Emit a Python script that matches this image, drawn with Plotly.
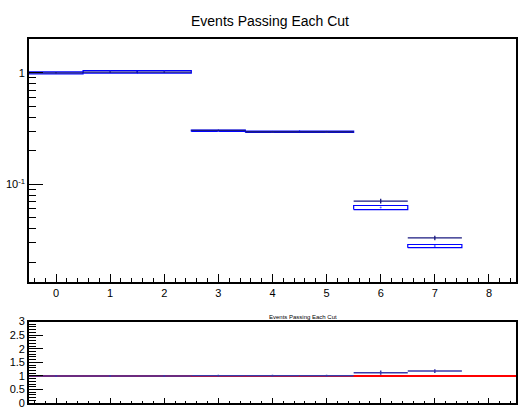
import plotly.graph_objects as go

# ---- data ----
bins = [0, 1, 2, 3, 4, 5, 6, 7]
mc_vals = [1.00, 1.02, 1.02, 0.302, 0.296, 0.296, 0.0619, 0.0279]
mc_errs = [0.02, 0.025, 0.025, 0.0045, 0.0045, 0.0045, 0.0026, 0.0009]
data_vals = [1.00, 1.014, 1.014, 0.305, 0.296, 0.296, 0.0707, 0.0330]
data_errs = [0.015, 0.015, 0.015, 0.004, 0.004, 0.004, 0.0035, 0.0015]
ratio_vals = [1.00, 1.00, 1.00, 1.01, 1.01, 1.01, 1.12, 1.18]
ratio_errs = [0.03, 0.03, 0.03, 0.03, 0.03, 0.03, 0.08, 0.07]
ratio_ref = 1.0
y_major_vals = [0.1, 1]
y_major_text = ["10<sup>-1</sup>", "1"]
y_minor_vals = [0.02, 0.03, 0.04, 0.05, 0.06, 0.07, 0.08, 0.09,
                0.2, 0.3, 0.4, 0.5, 0.6, 0.7, 0.8, 0.9]
r_tick_vals = [0, 0.5, 1, 1.5, 2, 2.5, 3]
r_tick_text = ["0", "0.5", "1", "1.5", "2", "2.5", "3"]
title_text = "Events Passing Each Cut"

W, H = 518, 413
half = 0.5
ylog_range = [-1.879, 0.299]

# build MC error boxes
bx, by = [], []
for b, v, e in zip(bins, mc_vals, mc_errs):
    lo, hi = v - e, v + e
    bx += [b - half, b + half, b + half, b - half, b - half, None]
    by += [lo, lo, hi, hi, lo, None]

fig = go.Figure()
fig.add_trace(go.Scatter(x=bx, y=by, mode="lines", line=dict(color="#0000ff", width=1.2),
                         hoverinfo="skip", showlegend=False, xaxis="x", yaxis="y"))
fig.add_trace(go.Scatter(x=bins, y=mc_vals, mode="markers",
                         marker=dict(color="#6666ff", size=2), showlegend=False,
                         xaxis="x", yaxis="y"))
fig.add_trace(go.Scatter(x=bins, y=data_vals, mode="markers",
                         marker=dict(color="#1a1a80", size=1),
                         error_x=dict(type="constant", value=half, color="#1a1a80", thickness=1.3, width=0),
                         error_y=dict(type="data", array=data_errs, color="#1a1a80", thickness=1.3, width=0),
                         showlegend=False, xaxis="x", yaxis="y"))
# invisible trace to host the minor-tick overlay axis
fig.add_trace(go.Scatter(x=bins, y=mc_vals, mode="markers", marker=dict(opacity=0),
                         hoverinfo="skip", showlegend=False, xaxis="x", yaxis="y3"))

# ratio panel
fig.add_trace(go.Scatter(x=[bins[0] - half, bins[-1] + 1 + half], y=[ratio_ref, ratio_ref],
                         mode="lines", line=dict(color="#ff0000", width=2),
                         showlegend=False, xaxis="x2", yaxis="y2"))
fig.add_trace(go.Scatter(x=bins, y=ratio_vals, mode="markers",
                         marker=dict(color="#3a3aaa", size=1),
                         error_x=dict(type="constant", value=half, color="#3a3aaa", thickness=1.5, width=0),
                         error_y=dict(type="data", array=ratio_errs, color="#3a3aaa", thickness=1.5, width=0),
                         showlegend=False, xaxis="x2", yaxis="y2"))

xdom = [29 / W, 517 / W]
top_dom = [(H - 284.5) / H, (H - 34.5) / H]
bot_dom = [(H - 409) / H, (H - 325) / H]
font = "Liberation Sans, Arial, sans-serif"

common_x = dict(domain=xdom, range=[-0.5, 8.5], showgrid=False, zeroline=False,
                showline=True, linecolor="black", linewidth=1.5, mirror=True,
                ticks="inside", tickcolor="black", tickwidth=1.2, dtick=1, tick0=0)

fig.update_layout(
    width=W, height=H, margin=dict(l=0, r=0, t=0, b=0),
    paper_bgcolor="white", plot_bgcolor="white",
    font=dict(family=font, color="black"),
    xaxis=dict(**common_x, anchor="y", ticklen=8, tickfont=dict(size=11),
               minor=dict(dtick=0.2, tick0=0, ticklen=4, ticks="inside", tickcolor="black", showgrid=False)),
    yaxis=dict(domain=top_dom, type="log", range=ylog_range, anchor="x",
               showgrid=False, zeroline=False, showline=True, linecolor="black", linewidth=1.5,
               mirror=True, ticks="inside", ticklen=14, tickwidth=1.2, tickcolor="black",
               tickmode="array", tickvals=y_major_vals, ticktext=y_major_text,
               tickfont=dict(size=11)),
    yaxis3=dict(domain=top_dom, type="log", range=ylog_range, overlaying="y", anchor="x",
                side="left", showgrid=False, zeroline=False, showline=False,
                ticks="inside", ticklen=7, tickwidth=1.2, tickcolor="black",
                tickmode="array", tickvals=y_minor_vals, showticklabels=False),
    xaxis2=dict(**common_x, anchor="y2", ticklen=5, showticklabels=False,
                minor=dict(dtick=0.2, tick0=0, ticklen=2, ticks="inside", tickcolor="black", showgrid=False)),
    yaxis2=dict(domain=bot_dom, range=[0, 3], anchor="x2",
                showgrid=False, zeroline=False, showline=True, linecolor="black", linewidth=1.5,
                mirror=True, ticks="inside", ticklen=14, tickwidth=1.2, tickcolor="black",
                tickmode="array", tickvals=r_tick_vals, ticktext=r_tick_text,
                tickfont=dict(size=11), ticklabeloverflow="allow",
                minor=dict(dtick=0.1, tick0=0, ticklen=7, ticks="inside", tickcolor="black", showgrid=False)),
    annotations=[
        dict(text=title_text, x=271 / W, y=1 - 15 / H, xref="paper", yref="paper",
             showarrow=False, font=dict(size=14, family=font), xanchor="center", yanchor="middle"),
        dict(text=title_text, x=304 / W, y=1 - 320 / H, xref="paper", yref="paper",
             showarrow=False, font=dict(size=6, family=font), xanchor="center", yanchor="middle"),
    ],
)

fig.write_html("out.html", config={"displayModeBar": False},
               post_script="document.body.style.margin='0px';document.body.style.overflow='hidden';")
